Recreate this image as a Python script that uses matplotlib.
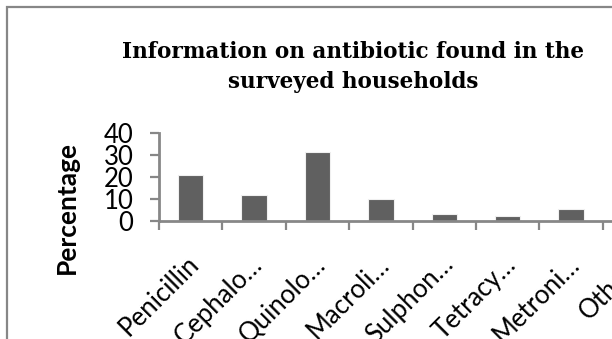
import matplotlib.pyplot as plt
from matplotlib.patches import Rectangle
import matplotlib.transforms as mtransforms

categories = ['Penicillin', 'Cephalo…', 'Quinolo…', 'Macroli…',
              'Sulphon…', 'Tetracy…', 'Metroni…', 'Others']
percentages = [21, 12, 31.5, 10, 3.3, 2.3, 5.5, 14]
y_ticks = [0, 10, 20, 30, 40]

axis_grey = '#878787'

fig = plt.figure(figsize=(6.12, 3.39), dpi=100)

# chart area frame (runs off the right and bottom of the canvas)
fig.patches.append(Rectangle((7 / 612, -0.5), 2.0, 1.0 - 7 / 339 + 0.5,
                             transform=fig.transFigure, fill=False,
                             edgecolor=axis_grey, linewidth=1.6))

ax = fig.add_axes([159 / 612, 118 / 339, 8 * 63.4 / 612, 88 / 339])
x = range(len(categories))
ax.bar(x, percentages, width=0.4, color='#606060', edgecolor='#f0f0f0',
       linewidth=0.8)

ax.set_xlim(-0.5, len(categories) - 0.5)
ax.set_ylim(0, 40)
for side in ('top', 'right'):
    ax.spines[side].set_visible(False)
for side in ('left', 'bottom'):
    ax.spines[side].set_color(axis_grey)
    ax.spines[side].set_linewidth(2)

ax.set_yticks(y_ticks)
ax.set_yticklabels([str(t) for t in y_ticks], fontfamily='Lato', fontsize=18.5)
ax.tick_params(axis='y', direction='out', length=6.5, width=1.6,
               color=axis_grey, pad=12)

# labels at category centres, tick marks on the boundaries
ax.set_xticks(list(x))
ax.set_xticklabels(categories, fontfamily='Lato', fontsize=18.5,
                   rotation=45, ha='right', va='top', rotation_mode='anchor')
ax.tick_params(axis='x', which='major', length=0, pad=22)
ax.set_xticks([i - 0.5 for i in range(len(categories) + 1)], minor=True)
ax.tick_params(axis='x', which='minor', direction='out', length=6.5,
               width=1.6, color=axis_grey)
shift = mtransforms.ScaledTranslation(-3 / 72, 0, fig.dpi_scale_trans)
for lab in ax.get_xticklabels():
    lab.set_transform(lab.get_transform() + shift)

fig.text(67 / 612, 1 - 208 / 339, 'Percentage', rotation=90, ha='center',
         va='center', fontfamily='Lato', fontweight='bold', fontsize=19)

fig.text(353 / 612, 1 - 88 / 339,
         'Information on antibiotic found in the\nsurveyed households',
         ha='center', va='baseline', fontfamily='DejaVu Serif',
         fontweight='bold', fontsize=15.5, linespacing=1.5)

fig.savefig('out.png', dpi=100)
